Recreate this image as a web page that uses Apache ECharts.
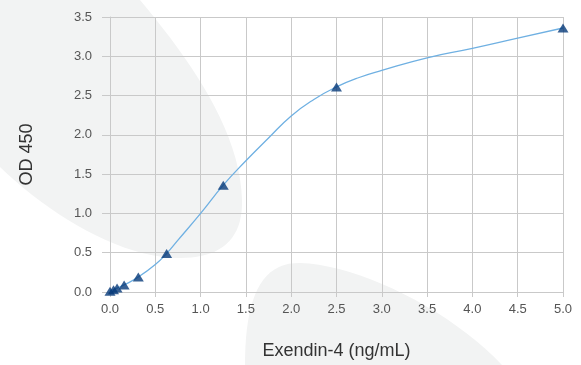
<!DOCTYPE html>
<html>
<head>
<meta charset="utf-8">
<script src="https://cdn.jsdelivr.net/npm/echarts@6/dist/echarts.min.js"></script>
<style>
  html, body { margin: 0; padding: 0; background: #fff; }
  #chart { width: 581px; height: 365px; }
</style>
</head>
<body>
<div id="chart"></div>
<script>
// standards (ng/mL) and measured OD
const standardConc = [0, 0.039, 0.078, 0.156, 0.3125, 0.625, 1.25, 2.5, 5]
const standardOD = [0.01, 0.03, 0.05, 0.09, 0.19, 0.49, 1.36, 2.61, 3.36]

// fitted curve
const curveConc = [0, 0.039, 0.078, 0.156, 0.3125, 0.5, 0.625, 0.75, 1.0, 1.25, 1.5, 1.75, 2.0, 2.25, 2.5, 2.75, 3.0, 3.5, 4.0, 4.5, 5.0]
const curveOD = [0.01, 0.03, 0.05, 0.09, 0.19, 0.35, 0.49, 0.66, 1.0, 1.36, 1.67, 1.96, 2.24, 2.45, 2.61, 2.73, 2.82, 2.98, 3.1, 3.23, 3.36]

const xTicks = { min: 0, max: 5, step: 0.5 }
const yTicks = { min: 0, max: 3.5, step: 0.5 }

const gridColor = '#c9c9c9'
const labelStyle = { color: '#555', fontSize: 13, fontFamily: 'Liberation Sans, Arial, sans-serif' }
const nameStyle = { color: '#333', fontSize: 18, fontFamily: 'Liberation Sans, Arial, sans-serif' }

// background decoration: turn cubic bezier segments into polygon points
function bezierPoints (start, segs) {
  let pts = [start]
  let p0 = start
  segs.forEach(s => {
    for (let i = 1; i <= 20; i++) {
      let t = i / 20
      let u = 1 - t
      pts.push([
        u * u * u * p0[0] + 3 * u * u * t * s[0][0] + 3 * u * t * t * s[1][0] + t * t * t * s[2][0],
        u * u * u * p0[1] + 3 * u * u * t * s[0][1] + 3 * u * t * t * s[1][1] + t * t * t * s[2][1]
      ])
    }
    p0 = s[2]
  })
  return pts
}

const blobTop = [[0, 0]].concat(bezierPoints([140, 0], [
  [[190, 60], [240, 130], [242, 200]],
  [[243, 240], [220, 258], [180, 258]],
  [[120, 258], [50, 215], [0, 167]]
]))
const blobBottom = bezierPoints([245, 365], [
  [[245, 300], [260, 262], [300, 263]],
  [[360, 265], [450, 310], [502, 365]]
])

let chart = echarts.init(document.getElementById('chart'))
chart.setOption({
  animation: false,
  graphic: [
    { type: 'polygon', z: -10, shape: { points: blobTop }, style: { fill: '#f2f3f3' } },
    { type: 'polygon', z: -10, shape: { points: blobBottom }, style: { fill: '#f2f3f3' } }
  ],
  grid: { left: 110, right: 18, top: 17, bottom: 73 },
  xAxis: {
    type: 'value',
    min: xTicks.min,
    max: xTicks.max,
    interval: xTicks.step,
    name: 'Exendin-4 (ng/mL)',
    nameLocation: 'middle',
    nameGap: 50,
    nameTextStyle: nameStyle,
    axisLine: { show: true, lineStyle: { color: gridColor } },
    axisTick: { show: true, length: 5, lineStyle: { color: gridColor } },
    axisLabel: Object.assign({ margin: 11, formatter: v => v.toFixed(1) }, labelStyle),
    splitLine: { show: true, lineStyle: { color: gridColor, width: 1 } }
  },
  yAxis: {
    type: 'value',
    min: yTicks.min,
    max: yTicks.max,
    interval: yTicks.step,
    name: 'OD 450',
    nameLocation: 'middle',
    nameGap: 74,
    nameTextStyle: nameStyle,
    axisLine: { show: true, lineStyle: { color: gridColor } },
    axisTick: { show: true, length: 8, lineStyle: { color: gridColor } },
    axisLabel: Object.assign({ margin: 18, formatter: v => v.toFixed(1) }, labelStyle),
    splitLine: { show: true, lineStyle: { color: gridColor, width: 1 } }
  },
  series: [
    {
      type: 'line',
      smooth: 0.5,
      showSymbol: false,
      data: curveConc.map((x, i) => [x, curveOD[i]]),
      lineStyle: { color: '#6fb0e2', width: 1.3 },
      z: 2
    },
    {
      type: 'scatter',
      symbol: 'triangle',
      symbolSize: [11, 9],
      data: standardConc.map((x, i) => [x, standardOD[i]]),
      itemStyle: { color: '#063a79' },
      z: 3
    }
  ]
})
</script>
</body>
</html>
